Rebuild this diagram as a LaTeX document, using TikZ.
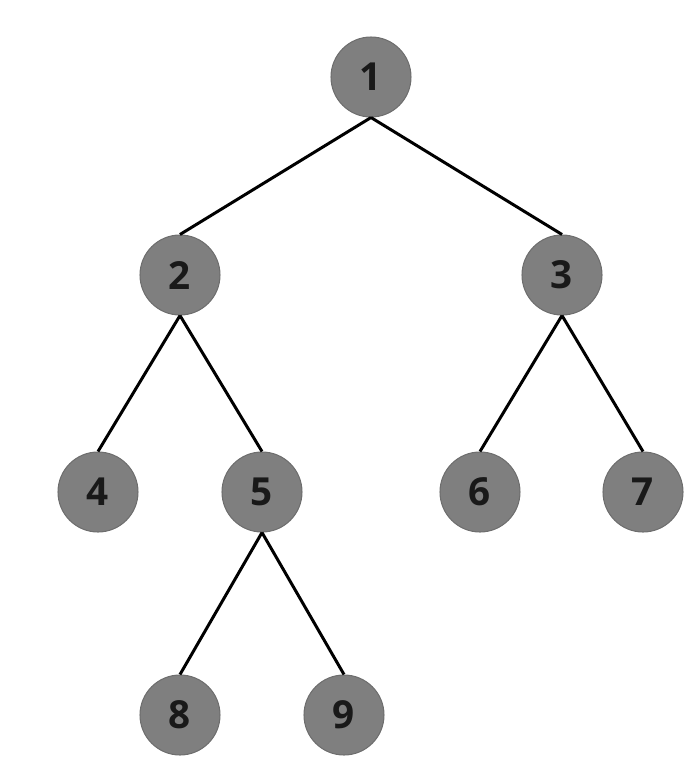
\documentclass[tikz,border=0pt]{standalone}
\usepackage{fontspec}
\setmainfont{Open Sans}
\usepackage{xcolor}
\usepackage{tikz}
\usetikzlibrary{positioning}

\definecolor{nodegray}{HTML}{7F7F7F}
\definecolor{rimgray}{HTML}{6E6E6E}

\begin{document}
\begin{tikzpicture}[x=0.02cm, y=-0.02cm]
\tikzstyle{n}=[circle,draw=rimgray,fill=nodegray,line width=0.6pt,minimum size=1.6cm,inner sep=0pt,font=\fontsize{22}{26}\selectfont\bfseries,text=black!90]
\tikzstyle{e}=[line width=1.7pt,black]
\useasboundingbox (0,0) rectangle (689,778);
\node[n] (a) at (371,77) {1};
\node[n] (b) at (180,275) {2};
\node[n] (c) at (562,275) {3};
\node[n] (d) at (98,492) {4};
\node[n] (f) at (262,492) {5};
\node[n] (g) at (480,492) {6};
\node[n] (h) at (643,492) {7};
\node[n] (i) at (180,715) {8};
\node[n] (j) at (344,715) {9};
\draw[e] (a.south)--(b.north);
\draw[e] (a.south)--(c.north);
\draw[e] (b.south)--(d.north);
\draw[e] (b.south)--(f.north);
\draw[e] (c.south)--(g.north);
\draw[e] (c.south)--(h.north);
\draw[e] (f.south)--(i.north);
\draw[e] (f.south)--(j.north);
\end{tikzpicture}
\end{document}
